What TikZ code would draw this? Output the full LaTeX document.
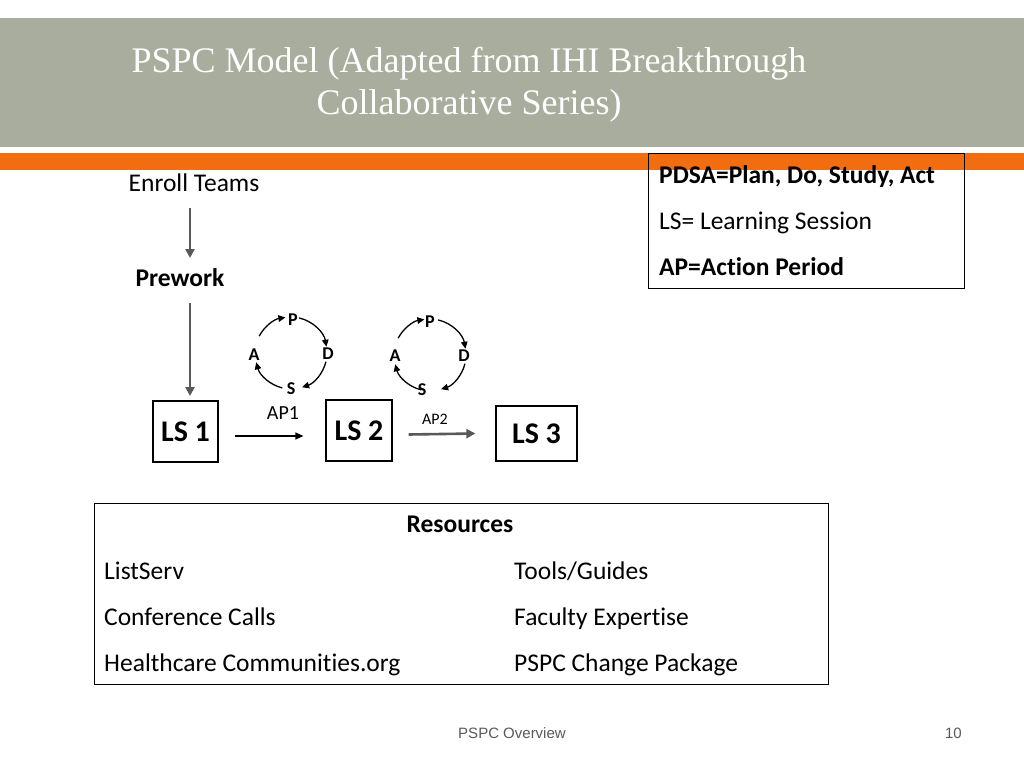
\documentclass[tikz,border=0pt]{standalone}
\usepackage{fontspec}
\setmainfont{Carlito}[Ligatures=NoCommon]
\newfontfamily\titlefont{Liberation Serif}
\newfontfamily\footfont{Liberation Sans}
\usetikzlibrary{arrows.meta}
\definecolor{bandgray}{RGB}{169,173,157}
\definecolor{bandorange}{RGB}{242,108,16}
\definecolor{arrowgray}{RGB}{89,89,89}
\definecolor{footgray}{RGB}{89,89,89}
\tikzset{
  body/.style={font=\fontsize{25.5}{30}\selectfont, inner sep=0pt},
  bodyb/.style={font=\fontsize{25.5}{30}\selectfont\bfseries, inner sep=0pt},
  lsbox/.style={draw=black, line width=1.2pt, font=\fontsize{30}{34}\selectfont\bfseries, inner sep=0pt},
  flowarrow/.style={draw=arrowgray, line width=2.8pt, -{Triangle[length=9pt,width=9pt]}},
  thinarrow/.style={draw=black, line width=1.3pt, -{Triangle[length=8pt,width=7pt]}},
  cyc/.style={font=\fontsize{18}{20}\selectfont\bfseries, inner sep=0pt},
  cycarrow/.style={draw=black, line width=1.3pt, -{Triangle[length=7pt,width=6.5pt]}},
  titletext/.style={font=\titlefont\fontsize{36}{40}\selectfont, text=white, inner sep=0pt, anchor=base},
  footer/.style={font=\footfont\fontsize{15}{18}\selectfont, text=footgray, inner sep=0pt}
}
% cycle arrows: #1 centre x, #2 centre y, #3 radius
\newcommand{\pdsacycle}[3]{%
  \coordinate (c@a) at ({#1+#3*cos(152)},{#2-#3*sin(152)});
  \coordinate (c@p) at ({#1+#3*cos(77)},{#2-#3*sin(77)});
  \coordinate (c@d) at ({#1+#3*cos(-14)},{#2-#3*sin(-14)});
  \coordinate (c@s) at ({#1+#3*cos(-104)},{#2-#3*sin(-104)});
  \draw[cycarrow] (c@a) arc[start angle=-152, end angle=-99, radius=#3];
  \draw[cycarrow] (c@p) arc[start angle=-77, end angle=-10, radius=#3];
  \draw[cycarrow] (c@d) arc[start angle=14, end angle=72, radius=#3];
  \draw[cycarrow] (c@s) arc[start angle=104, end angle=165, radius=#3];
}
\begin{document}
\begin{tikzpicture}[x=1pt,y=-1pt]
\useasboundingbox (0,0) rectangle (1024,768);
\fill[white] (0,0) rectangle (1024,768);
% bands
\fill[bandgray] (0,18) rectangle (1024,147);
\fill[bandorange] (0,153) rectangle (1024,170);
% title
\node[titletext] (t1) at (469,72) {PSPC Model (Adapted from IHI Breakthrough};
\node[titletext] (t2) at (469,114) {Collaborative Series)};
% legend box
\node[draw=black, line width=1pt, minimum width=316pt, minimum height=135pt, inner sep=0pt] (legend) at (806,220.5) {};
\node[bodyb, anchor=base west] (l1) at (659,183) {PDSA=Plan, Do, Study, Act};
\node[body, anchor=base west] (l2) at (659,229) {LS= Learning Session};
\node[bodyb, anchor=base west] (l3) at (659,275) {AP=Action Period};
% flow
\node[body, anchor=base] (enroll) at (194,191) {Enroll Teams};
\node[bodyb, anchor=base] (prework) at (180,286) {Prework};
\node[lsbox, minimum width=65pt, minimum height=61pt] (ls1) at (185.5,431.5) {LS 1};
\node[lsbox, minimum width=66pt, minimum height=61pt] (ls2) at (359,430.5) {LS 2};
\node[lsbox, minimum width=81pt, minimum height=55pt] (ls3) at (536.5,433.5) {LS 3};
\coordinate (e1) at (190,208);
\coordinate (e2) at (190,258);
\coordinate (p1) at (190,303);
\coordinate (p2) at (190,396);
\draw[flowarrow] (e1) -- (e2);
\draw[flowarrow] (p1) -- (p2);
\draw[thinarrow] ([xshift=16pt,yshift=-4.5pt]ls1.east) -- ([xshift=-22pt,yshift=-5.5pt]ls2.west);
\node[font=\fontsize{20}{22}\selectfont, inner sep=0pt, anchor=base] (ap1) at (283,419) {AP1};
\draw[flowarrow, line width=2.6pt] ([xshift=16pt,yshift=-4pt]ls2.east) -- ([xshift=-20pt,yshift=0pt]ls3.west);
\node[font=\fontsize{16}{18}\selectfont, inner sep=0pt, anchor=base] (ap2) at (435,424) {AP2};
% PDSA cycle 1
\node[cyc] (P1) at (293,320) {P};
\node[cyc] (D1) at (328,354) {D};
\node[cyc] (S1) at (291,389) {S};
\node[cyc] (A1) at (254,355) {A};
\pdsacycle{291}{353}{36}
% PDSA cycle 2
\node[cyc] (P2) at (430,322) {P};
\node[cyc] (D2) at (464,356) {D};
\node[cyc] (S2) at (422,390) {S};
\node[cyc] (A2) at (395,356) {A};
\pdsacycle{430}{355}{36}
% resources
\node[draw=black, line width=1pt, minimum width=734pt, minimum height=181pt, inner sep=0pt] (res) at (461,593.5) {};
\node[bodyb, anchor=base] (rt) at (460,532) {Resources};
\node[body, anchor=base west] (r1) at (104,579) {ListServ};
\node[body, anchor=base west] (r2) at (104,625) {Conference Calls};
\node[body, anchor=base west] (r3) at (104,671) {Healthcare Communities.org};
\node[body, anchor=base west] (r4) at (514,579) {Tools/Guides};
\node[body, anchor=base west] (r5) at (514,625) {Faculty Expertise};
\node[body, anchor=base west] (r6) at (514,671) {PSPC Change Package};
% footer
\node[footer, anchor=base] (f1) at (512,738) {PSPC Overview};
\node[footer, anchor=base east] (f2) at (962,738) {10};
\end{tikzpicture}
\end{document}
